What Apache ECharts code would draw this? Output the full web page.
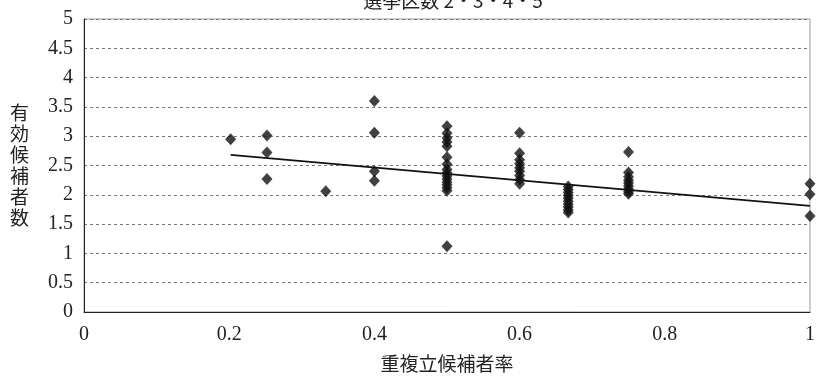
<!DOCTYPE html>
<html>
<head>
<meta charset="utf-8">
<script src="https://cdn.jsdelivr.net/npm/echarts@6/dist/echarts.min.js"></script>
<style>html,body{margin:0;padding:0;background:#fff;}#c{width:818px;height:378px;}</style>
</head>
<body>
<div id="c"></div>
<script>
// Data
const titleText = '選挙区数 2・3・4・5';
const xAxisName = '重複立候補者率';
const yAxisName = '有効候補者数';
const xTicks = [0, 0.2, 0.4, 0.6, 0.8, 1];
const yTicks = [0, 0.5, 1, 1.5, 2, 2.5, 3, 3.5, 4, 4.5, 5];

const groupX = [0.202, 0.252, 0.333, 0.4, 0.5, 0.6, 0.667, 0.75, 1];
const y_020 = [2.95];
const y_025 = [3.01, 2.72, 2.27];
const y_033 = [2.06];
const y_040 = [3.6, 3.06, 2.4, 2.24];
const y_050 = [3.17, 3.05, 2.97, 2.9, 2.83, 2.64, 2.52, 2.43, 2.37, 2.32, 2.27, 2.22, 2.17, 2.12, 2.07, 1.12];
const y_060 = [3.06, 2.71, 2.6, 2.53, 2.46, 2.4, 2.33, 2.26, 2.19];
const y_067 = [2.14, 2.09, 2.04, 1.99, 1.94, 1.89, 1.84, 1.79, 1.74, 1.7];
const y_075 = [2.73, 2.38, 2.31, 2.25, 2.2, 2.15, 2.1, 2.05, 2.02];
const y_100 = [2.19, 2.01, 1.64];
const groupY = [y_020, y_025, y_033, y_040, y_050, y_060, y_067, y_075, y_100];

// Trend line end points as drawn
const trendX = [0.202, 1];
const trendY = [2.68, 1.81];

const points = [];
groupX.forEach((x, i) => groupY[i].forEach(y => points.push([x, y])));
const trend = trendX.map((x, i) => [x, trendY[i]]);

const serif = "'Liberation Serif','DejaVu Serif',serif";
const jp = "'Noto Sans CJK JP','Noto Sans CJK SC',sans-serif";

const chart = echarts.init(document.getElementById('c'), null, {renderer: 'canvas'});
chart.setOption({
  animation: false,
  backgroundColor: '#fff',
  title: {
    text: titleText,
    left: 448, top: -14, textAlign: 'center',
    textStyle: {fontFamily: jp, fontSize: 19, fontWeight: 'normal', color: '#222'}
  },
  grid: {
    left: 84, right: 5, top: 19, bottom: 65,
    show: true, borderColor: '#999', borderWidth: 1, containLabel: false
  },
  xAxis: {
    type: 'value', min: 0, max: 1, interval: 0.2,
    name: xAxisName, nameLocation: 'middle', nameGap: 42,
    nameTextStyle: {fontFamily: jp, fontSize: 19, color: '#222'},
    axisLine: {show: true, onZero: false, lineStyle: {color: '#222', width: 1}},
    axisTick: {show: false},
    splitLine: {show: false},
    axisLabel: {
      margin: 13, fontFamily: serif, fontSize: 20, color: '#222',
      formatter: v => String(xTicks.find(t => Math.abs(t - v) < 1e-9) ?? v)
    }
  },
  yAxis: {
    type: 'value', min: 0, max: 5, interval: 0.5,
    name: yAxisName.split('').join('\n'), nameLocation: 'middle', nameGap: 55, nameRotate: 0,
    nameTextStyle: {fontFamily: jp, fontSize: 19, color: '#222', lineHeight: 21},
    axisLine: {show: true, lineStyle: {color: '#222', width: 1}},
    axisTick: {show: false},
    splitLine: {show: true, lineStyle: {color: '#777', type: [3, 3], width: 1}},
    axisLabel: {
      margin: 11, fontFamily: serif, fontSize: 20, color: '#222',
      formatter: v => String(yTicks.find(t => Math.abs(t - v) < 1e-9) ?? v)
    }
  },
  series: [
    {
      type: 'scatter', data: points, symbol: 'diamond', symbolSize: [11, 12],
      itemStyle: {color: '#111'}, z: 3
    },
    {
      type: 'line', data: trend, symbol: 'none', lineStyle: {color: '#111', width: 1.8},
      z: 4
    }
  ]
});
</script>
</body>
</html>
